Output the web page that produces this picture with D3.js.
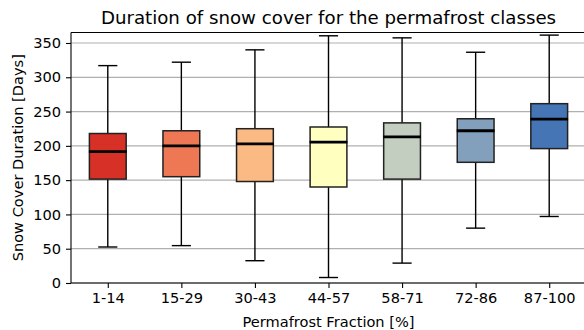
<!DOCTYPE html>
<html><head><meta charset="utf-8">
<script src="https://cdn.jsdelivr.net/npm/d3@7"></script>
<style>body{margin:0;background:#fff}svg{display:block;font-family:"DejaVu Sans",sans-serif}</style>
</head><body><svg id="c" width="584" height="330"></svg>
<script>
const categories = ["1-14","15-29","30-43","44-57","58-71","72-86","87-100"];
const whiskerLow = [52.5, 54.5, 32.5, 8, 29, 80, 97];
const q1 = [151.5, 155, 148, 140, 151.5, 176, 196];
const median = [191.5, 200, 203, 205.5, 213, 222, 239];
const q3 = [218, 222, 225, 227.5, 233.5, 239.5, 261.5];
const whiskerHigh = [317, 322, 340, 360.5, 357.5, 336.5, 361.5];
const colors = ["#d73027","#ee7754","#fbb983","#ffffbf","#c3cdc0","#829fbc","#4575b4"];
const yTicks = [0,50,100,150,200,250,300,350];

const svg = d3.select("#c");
const L = 71, R = 586, T = 32.5, B = 283;
const FS = 14.6;
const x = d3.scaleLinear().domain([0.5, 7.5]).range([L, R]);
const y = d3.scaleLinear().domain([0, 365.3]).range([B, T]);
const step = x(2) - x(1);

// grid
svg.append("g").selectAll("line").data(yTicks).join("line")
  .attr("x1", L).attr("x2", R).attr("y1", d => y(d)).attr("y2", d => y(d))
  .attr("stroke", "#b0b0b0").attr("stroke-width", 1.2);

// y axis
const ya = svg.append("g").attr("transform", `translate(${L},0)`)
  .call(d3.axisLeft(y).tickValues(yTicks).tickSize(5).tickPadding(5));
ya.select(".domain").remove();
ya.attr("font-size", FS).attr("font-family", "DejaVu Sans");
ya.selectAll("text").attr("fill", "#000");
ya.selectAll("line").attr("stroke", "#000").attr("stroke-width", 1.1);

// x axis
const xa = svg.append("g").attr("transform", `translate(0,${B})`)
  .call(d3.axisBottom(x).tickValues(d3.range(1, 8)).tickFormat((d, i) => categories[i]).tickSize(5).tickPadding(5));
xa.select(".domain").remove();
xa.attr("font-size", FS).attr("font-family", "DejaVu Sans");
xa.selectAll("text").attr("fill", "#000");
xa.selectAll("line").attr("stroke", "#000").attr("stroke-width", 1.1);

// boxes
const g = svg.append("g");
categories.forEach((c, i) => {
  const cx = x(i + 1), bw = step * 0.5, cw = step * 0.26;
  const gg = g.append("g");
  gg.append("line").attr("x1", cx).attr("x2", cx).attr("y1", y(q3[i])).attr("y2", y(whiskerHigh[i])).attr("stroke", "#000").attr("stroke-width", 1.4);
  gg.append("line").attr("x1", cx).attr("x2", cx).attr("y1", y(q1[i])).attr("y2", y(whiskerLow[i])).attr("stroke", "#000").attr("stroke-width", 1.4);
  gg.append("line").attr("x1", cx - cw/2).attr("x2", cx + cw/2).attr("y1", y(whiskerHigh[i])).attr("y2", y(whiskerHigh[i])).attr("stroke", "#000").attr("stroke-width", 1.4);
  gg.append("line").attr("x1", cx - cw/2).attr("x2", cx + cw/2).attr("y1", y(whiskerLow[i])).attr("y2", y(whiskerLow[i])).attr("stroke", "#000").attr("stroke-width", 1.4);
  gg.append("rect").attr("x", cx - bw/2).attr("width", bw).attr("y", y(q3[i])).attr("height", y(q1[i]) - y(q3[i]))
    .attr("fill", colors[i]).attr("stroke", "#222").attr("stroke-width", 1.5);
  gg.append("line").attr("x1", cx - bw/2 - 0.5).attr("x2", cx + bw/2 + 0.5).attr("y1", y(median[i])).attr("y2", y(median[i])).attr("stroke", "#000").attr("stroke-width", 2.8);
});

// spines
svg.append("line").attr("x1", L).attr("x2", L).attr("y1", T).attr("y2", B).attr("stroke", "#000").attr("stroke-width", 1.1);
svg.append("line").attr("x1", L).attr("x2", R).attr("y1", B).attr("y2", B).attr("stroke", "#000").attr("stroke-width", 1.1);
svg.append("line").attr("x1", L).attr("x2", R).attr("y1", T).attr("y2", T).attr("stroke", "#000").attr("stroke-width", 1.1);

// labels
svg.append("text").attr("x", 328.5).attr("y", 24).attr("text-anchor", "middle").attr("font-size", 18.2).text("Duration of snow cover for the permafrost classes");
svg.append("text").attr("x", 328.5).attr("y", 326.5).attr("text-anchor", "middle").attr("font-size", FS).text("Permafrost Fraction [%]");
svg.append("text").attr("transform", `translate(22.5,${(T+B)/2}) rotate(-90)`).attr("text-anchor", "middle").attr("font-size", FS).text("Snow Cover Duration [Days]");
</script></body></html>
